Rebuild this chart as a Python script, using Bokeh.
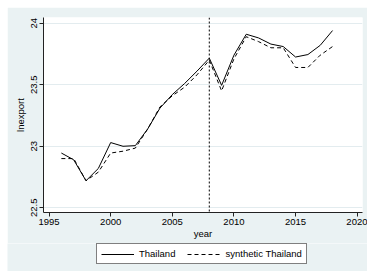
from bokeh.plotting import figure
from bokeh.layouts import column
from bokeh.models import Range1d, Span, Legend, LegendItem, FixedTicker, ColumnDataSource
from bokeh.embed import file_html
from bokeh.resources import INLINE

years = list(range(1996, 2019))
thailand = [22.945, 22.89, 22.72, 22.82, 23.03, 23.00, 23.005, 23.14, 23.31, 23.42,
            23.51, 23.61, 23.716, 23.495, 23.74, 23.91, 23.88, 23.83, 23.81, 23.725,
            23.745, 23.82, 23.94]
synthetic = [22.90, 22.90, 22.72, 22.79, 22.945, 22.96, 22.985, 23.14, 23.32, 23.41,
             23.48, 23.58, 23.70, 23.45, 23.71, 23.89, 23.85, 23.80, 23.80, 23.64,
             23.64, 23.74, 23.81]
x_ticks = [1995, 2000, 2005, 2010, 2015, 2020]
y_ticks = [22.5, 23, 23.5, 24]
treat_year = 2008
series_names = ["Thailand", "synthetic Thailand"]

FONT = "Liberation Sans"
BG = "#EAF2F3"

p = figure(width=360, height=236, output_backend="svg", toolbar_location=None,
           x_range=Range1d(1994.55, 2020.43), y_range=Range1d(22.462, 24.046),
           min_border_left=36, min_border_right=5, min_border_top=10, min_border_bottom=31)
p.margin = (7, 0, 0, 7)
p.frame_align = False
p.border_fill_color = BG
p.background_fill_color = "white"
p.outline_line_color = None

src = ColumnDataSource(dict(year=years, th=thailand, syn=synthetic))
p.line("year", "th", source=src, line_color="black", line_width=1)
p.line("year", "syn", source=src, line_color="black", line_width=1, line_dash="4 3")

p.add_layout(Span(location=treat_year, dimension="height", line_color="black",
                  line_width=1, line_dash="2 2"))

p.xgrid.visible = False
p.ygrid.ticker = FixedTicker(ticks=y_ticks)
p.ygrid.grid_line_color = "#E3ECEF"
p.ygrid.grid_line_width = 1

for ax in (p.xaxis[0], p.yaxis[0]):
    ax.axis_line_color = "#222222"
    ax.major_tick_line_color = "#222222"
    ax.major_tick_out = 4
    ax.major_tick_in = 0
    ax.minor_tick_line_color = None
    ax.major_label_text_font = FONT
    ax.major_label_text_font_size = "9.5px"
    ax.major_label_text_color = "black"
    ax.axis_label_text_font = FONT
    ax.axis_label_text_font_size = "9.5px"
    ax.axis_label_text_font_style = "normal"
    ax.axis_label_text_color = "black"
    ax.major_label_standoff = 2
    ax.axis_label_standoff = 0

p.yaxis.axis_label_standoff = 3
p.xaxis.ticker = FixedTicker(ticks=x_ticks)
p.yaxis.ticker = FixedTicker(ticks=y_ticks)
p.yaxis.major_label_orientation = "vertical"
p.yaxis.major_label_overrides = {22.5: "22.5", 23: "23", 23.5: "23.5", 24: "24"}
p.xaxis.axis_label = "year"
p.yaxis.axis_label = "lnexport"

# legend strip below the chart (its proxy lines use the same data, outside its range)
p2 = figure(width=360, height=28, output_backend="svg", toolbar_location=None,
            x_range=Range1d(0, 1), y_range=Range1d(0, 1),
            x_axis_location=None, y_axis_location=None,
            min_border_left=0, min_border_right=0, min_border_top=0, min_border_bottom=0)
p2.margin = (0, 0, 0, 7)
p2.frame_align = False
p2.border_fill_color = BG
p2.background_fill_color = BG
p2.outline_line_color = None
p2.grid.visible = False
k1 = p2.line("year", "th", source=src, line_color="black", line_width=1)
k2 = p2.line("year", "syn", source=src, line_color="black", line_width=1, line_dash="4 3")

legend = Legend(items=[LegendItem(label=series_names[0], renderers=[k1]),
                       LegendItem(label=series_names[1], renderers=[k2])],
                orientation="horizontal", location=(89, 7))
legend.border_line_color = "black"
legend.border_line_width = 1
legend.background_fill_color = "white"
legend.background_fill_alpha = 1
legend.label_text_font = FONT
legend.label_text_font_size = "9.5px"
legend.label_text_color = "black"
legend.glyph_width = 33
legend.glyph_height = 10
legend.label_standoff = 5
legend.spacing = 12
legend.padding = 4
legend.margin = 0
legend.label_height = 10
p2.add_layout(legend, "center")

open("out.html", "w").write(file_html(column(p, p2, spacing=0), INLINE))
